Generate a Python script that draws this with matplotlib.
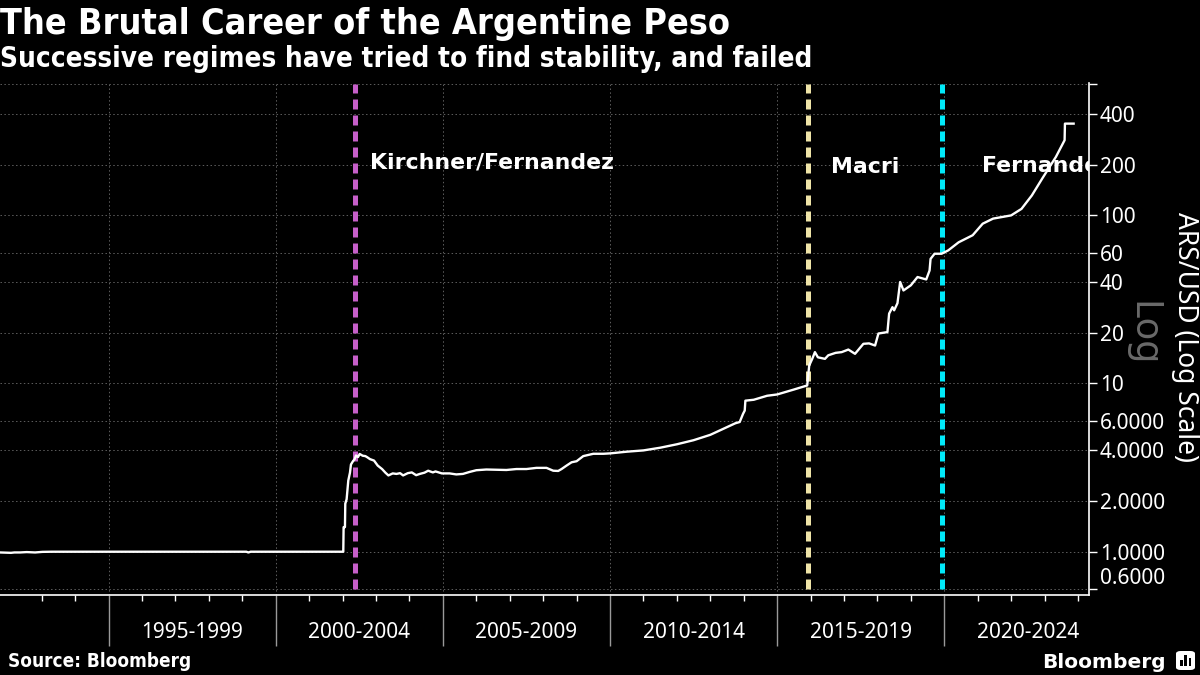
import numpy as np
import matplotlib
matplotlib.use('Agg')
import matplotlib.pyplot as plt
from matplotlib.patches import FancyBboxPatch, Rectangle

# --- chart text ---
title = "The Brutal Career of the Argentine Peso"
subtitle = "Successive regimes have tried to find stability, and failed"
source = "Source: Bloomberg"
y_label = "ARS/USD (Log Scale)"

# --- ARS per USD (decimal years) ---
years = [
    1991.75, 1992.08, 1992.18, 1992.35, 1992.55, 1992.80, 1993.02, 1993.30,
    1995.00, 1999.12, 1999.18, 1999.25, 2001.99,
    2002.02, 2002.03, 2002.07, 2002.08, 2002.12, 2002.17, 2002.22, 2002.25,
    2002.31, 2002.36, 2002.40, 2002.46, 2002.51, 2002.60, 2002.68, 2002.74,
    2002.82, 2002.94, 2003.05, 2003.18, 2003.28, 2003.37, 2003.50, 2003.61,
    2003.72, 2003.81, 2003.95, 2004.07, 2004.20, 2004.31, 2004.45, 2004.56,
    2004.70, 2004.78, 2004.97, 2005.20, 2005.40, 2005.60, 2005.80, 2006.00,
    2006.30, 2006.60, 2006.90, 2007.20, 2007.50, 2007.80, 2008.10, 2008.30,
    2008.45, 2008.55, 2008.70, 2008.85, 2009.00, 2009.20, 2009.50, 2009.80,
    2010.00, 2010.50, 2011.00, 2011.50, 2012.00, 2012.50, 2013.00, 2013.50,
    2013.75, 2013.88, 2013.98, 2014.03, 2014.05, 2014.30, 2014.70, 2015.00,
    2015.50, 2015.90, 2015.96, 2016.05, 2016.13, 2016.22, 2016.43, 2016.53,
    2016.75, 2016.93, 2017.13, 2017.33, 2017.58, 2017.75, 2017.93, 2018.03,
    2018.30, 2018.35, 2018.45, 2018.50, 2018.60, 2018.68, 2018.78, 2019.00,
    2019.20, 2019.46, 2019.56, 2019.59, 2019.71, 2019.92, 2020.12, 2020.43,
    2020.85, 2021.15, 2021.46, 2022.00, 2022.31, 2022.62, 2022.93, 2023.34,
    2023.60, 2023.61, 2023.87,
]
ars_usd = [
    0.99, 0.985, 0.99, 0.99, 0.995, 0.99, 0.998, 1.0,
    1.0, 1.0, 0.99, 1.0, 1.0,
    1.0, 1.40, 1.40, 1.93, 2.05, 2.65, 2.95, 3.30,
    3.45, 3.55, 3.73, 3.65, 3.81, 3.72, 3.70, 3.64,
    3.55, 3.48, 3.25, 3.10, 2.95, 2.84, 2.92, 2.90,
    2.93, 2.84, 2.93, 2.96, 2.85, 2.90, 2.95, 3.03,
    2.96, 3.00, 2.92, 2.92, 2.88, 2.90, 2.98, 3.05,
    3.08, 3.07, 3.06, 3.10, 3.10, 3.15, 3.15, 3.03,
    3.02, 3.10, 3.25, 3.40, 3.45, 3.70, 3.82, 3.82,
    3.84, 3.93, 4.00, 4.15, 4.35, 4.60, 4.95, 5.50,
    5.80, 5.90, 6.60, 6.90, 7.90, 8.00, 8.45, 8.60,
    9.20, 9.73, 12.8, 14.0, 15.35, 14.3, 14.0, 14.7,
    15.2, 15.35, 15.9, 15.0, 17.2, 17.3, 16.8, 19.8,
    20.2, 26.0, 28.4, 27.2, 30.0, 40.1, 35.7, 38.3,
    42.9, 41.5, 46.9, 55.0, 59.0, 59.0, 61.8, 69.0,
    76.0, 89.0, 95.4, 99.7, 109.0, 131.0, 165.0, 222.0,
    279.0, 350.0, 350.0,
]

# --- presidencies ---
regime_starts = [2002.38, 2015.92, 2019.94]
regime_names = ["Kirchner/Fernandez", "Macri", "Fernandez"]
regime_colors = ["#c65fc9", "#efe4a8", "#00e9f9"]
regime_label_x = [2002.81, 2016.60, 2021.13]
regime_label_y = [190, 178, 181]

# --- axes ---
y_ticks = [0.6, 1, 2, 4, 6, 10, 20, 40, 60, 100, 200, 400, 600]
y_tick_labels = ["0.6000", "1.0000", "2.0000", "4.0000", "6.0000", "10",
                 "20", "40", "60", "100", "200", "400", ""]
period_edges = [1995, 2000, 2005, 2010, 2015, 2020]
period_labels = ["1995-1999", "2000-2004", "2005-2009", "2010-2014",
                 "2015-2019", "2020-2024"]
year_ticks = [y for y in range(1993, 2025) if y % 5 != 0]

BG = 'black'
fig = plt.figure(figsize=(12, 6.75), dpi=100, facecolor=BG)
ax = fig.add_axes([0.0, 0.1185, 0.9075, 0.7585])
ax.set_facecolor(BG)

ax.set_yscale('log')
ax.set_xlim(1991.75, 2024.33)
ax.set_ylim(0.553, 610)

# regime markers
for x, c in zip(regime_starts, regime_colors):
    ax.plot([x, x], [y_ticks[0], y_ticks[-1]], color=c, lw=3.6,
            linestyle=(0, (2.0, 1.2)), solid_capstyle='butt', zorder=3)

ax.plot(years, ars_usd, color='white', lw=1.7, zorder=4)

for name, x, y in zip(regime_names, regime_label_x, regime_label_y):
    t = ax.text(x, y, name, color='white', fontsize=15.8, fontweight='bold',
                family='DejaVu Sans', va='baseline', ha='left', zorder=5)
    t.set_clip_on(True)

# y axis on the right
ax.yaxis.tick_right()
ax.set_yticks(y_ticks)
ax.set_yticklabels(y_tick_labels)
ax.yaxis.set_minor_locator(matplotlib.ticker.NullLocator())
ax.tick_params(axis='y', which='major', direction='out', length=6, width=1,
               colors='white', labelsize=15, pad=2)
for lab in ax.get_yticklabels():
    lab.set_family('Noto Sans')
ax.get_yticklabels()[0].set_verticalalignment('bottom')

# x axis: long grey separators every 5 years, small white ticks per year
ax.set_xticks(period_edges)
ax.set_xticks(year_ticks, minor=True)
ax.set_xticklabels([])
ax.tick_params(axis='x', which='major', direction='out', length=37, width=1,
               colors='#9a9a9a')
ax.tick_params(axis='x', which='minor', direction='out', length=4, width=1,
               colors='white')
for x, lab in zip(period_edges, period_labels):
    ax.text(x + 2.5, -0.074, lab, transform=ax.get_xaxis_transform(),
            ha='center', va='center', color='white', fontsize=15,
            family='Noto Sans')

ax.grid(True, which='major', color='#5e5e5e', lw=0.7, linestyle=(0, (1.5, 2.5)))
ax.set_axisbelow(True)

for side in ['top', 'left']:
    ax.spines[side].set_visible(False)
for side in ['right', 'bottom']:
    ax.spines[side].set_color('white')
    ax.spines[side].set_linewidth(1.2)

# right-hand labels
fig.text(0.9875, 0.5, y_label, rotation=-90, ha='center', va='center',
         color='white', fontsize=19, family='Noto Sans')
fig.text(0.9517, 0.505, 'Log', rotation=-90, ha='center', va='center',
         color='#6a6a6a', fontsize=27, family='Noto Sans')

# titles
fig.text(0.0, 1 - 34 / 675, title, ha='left', va='baseline', color='white',
         fontsize=25.8, fontweight='bold', family='DejaVu Sans',
         fontstretch='condensed')
fig.text(0.0, 1 - 67 / 675, subtitle, ha='left', va='baseline', color='white',
         fontsize=20, fontweight='bold', family='DejaVu Sans',
         fontstretch='condensed')

# footer
fig.text(8 / 1200, 1 - 667 / 675, source, ha='left', va='baseline',
         color='white', fontsize=13.6, fontweight='bold', family='DejaVu Sans',
         fontstretch='condensed')
fig.text(1166 / 1200, 1 - 668 / 675, 'Bloomberg', ha='right', va='baseline',
         color='white', fontsize=14.5, fontweight='bold', family='DejaVu Sans')

# little logo mark
fx, fy = 1176 / 1200, 1 - 670 / 675
fw, fh = 19 / 1200, 19 / 675
fig.patches.append(FancyBboxPatch((fx, fy), fw, fh, boxstyle='round,pad=0,rounding_size=0.004',
                                  transform=fig.transFigure, facecolor='white',
                                  edgecolor='none'))
for i, h in enumerate([0.35, 0.6, 0.45]):
    fig.patches.append(Rectangle((fx + fw * (0.22 + 0.22 * i), fy + fh * 0.2),
                                 fw * 0.13, fh * h, transform=fig.transFigure,
                                 facecolor='black', edgecolor='none'))

fig.savefig('out.png', dpi=100, facecolor=BG)
